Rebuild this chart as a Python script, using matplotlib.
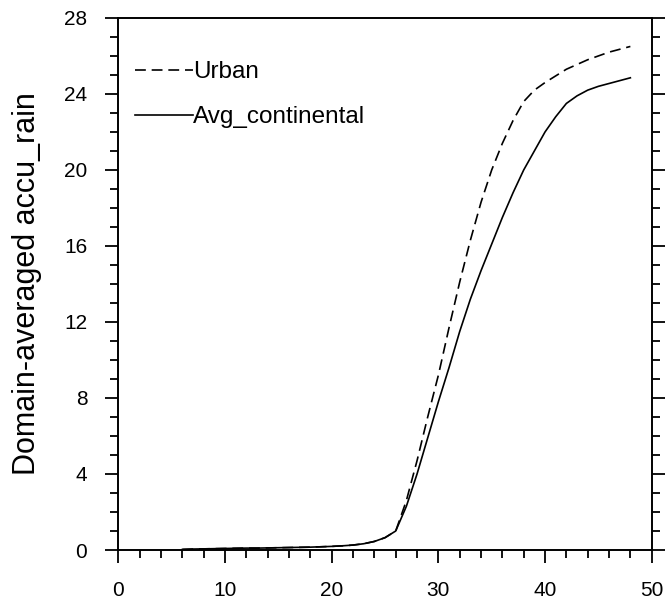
import matplotlib
matplotlib.use("Agg")
import matplotlib.pyplot as plt
from matplotlib.ticker import MultipleLocator

plt.rcParams["font.family"] = ["Liberation Sans", "DejaVu Sans"]

# hours
hours = list(range(6, 49))

urban = [0.03, 0.05, 0.06, 0.07, 0.08, 0.09, 0.10, 0.10, 0.11, 0.12,
         0.13, 0.14, 0.15, 0.17, 0.19, 0.22, 0.26, 0.33, 0.45, 0.65,
         1.0, 2.6, 4.7, 7.0, 9.2, 11.7, 14.1, 16.3, 18.3, 20.0,
         21.4, 22.6, 23.6, 24.2, 24.6, 24.95, 25.3, 25.55, 25.8, 26.0,
         26.2, 26.35, 26.5]

avg_continental = [0.03, 0.05, 0.06, 0.07, 0.08, 0.09, 0.10, 0.10, 0.11, 0.12,
                   0.13, 0.14, 0.15, 0.17, 0.19, 0.22, 0.26, 0.33, 0.45, 0.65,
                   1.0, 2.3, 4.0, 5.9, 7.8, 9.6, 11.5, 13.2, 14.7, 16.1,
                   17.5, 18.8, 20.0, 21.0, 22.0, 22.8, 23.5, 23.9, 24.2, 24.4,
                   24.55, 24.7, 24.85]

fig = plt.figure(figsize=(6.65, 6.06), dpi=100)
ax = fig.add_axes([0.178, 0.0924, 0.802, 0.878])

ax.plot(hours, urban, color="black", lw=1.2, dashes=(6.5, 3.5), label="Urban")
ax.plot(hours, avg_continental, color="black", lw=1.2, label="Avg_continental")

ax.set_xlim(0, 50)
ax.set_ylim(0, 28)
ax.xaxis.set_major_locator(MultipleLocator(10))
ax.xaxis.set_minor_locator(MultipleLocator(2))
ax.yaxis.set_major_locator(MultipleLocator(4))
ax.yaxis.set_minor_locator(MultipleLocator(1))

ax.tick_params(which="both", direction="out", width=1.3, labelsize=15,
               top=False, right=True, left=True, bottom=True)
ax.tick_params(which="major", length=9.4, pad=13)
ax.tick_params(which="minor", length=5.8)
for s in ax.spines.values():
    s.set_linewidth(1.4)

ax.set_ylabel("Domain-averaged accu_rain", fontsize=22, labelpad=16)

# legend sits inside the top-left corner, no frame
ax.legend(loc="upper left", bbox_to_anchor=(0.031, 0.919), frameon=False,
          fontsize=17.5, handlelength=2.4, handletextpad=0.0,
          labelspacing=0.95, borderpad=0, borderaxespad=0)

fig.savefig("out.png", dpi=100)
